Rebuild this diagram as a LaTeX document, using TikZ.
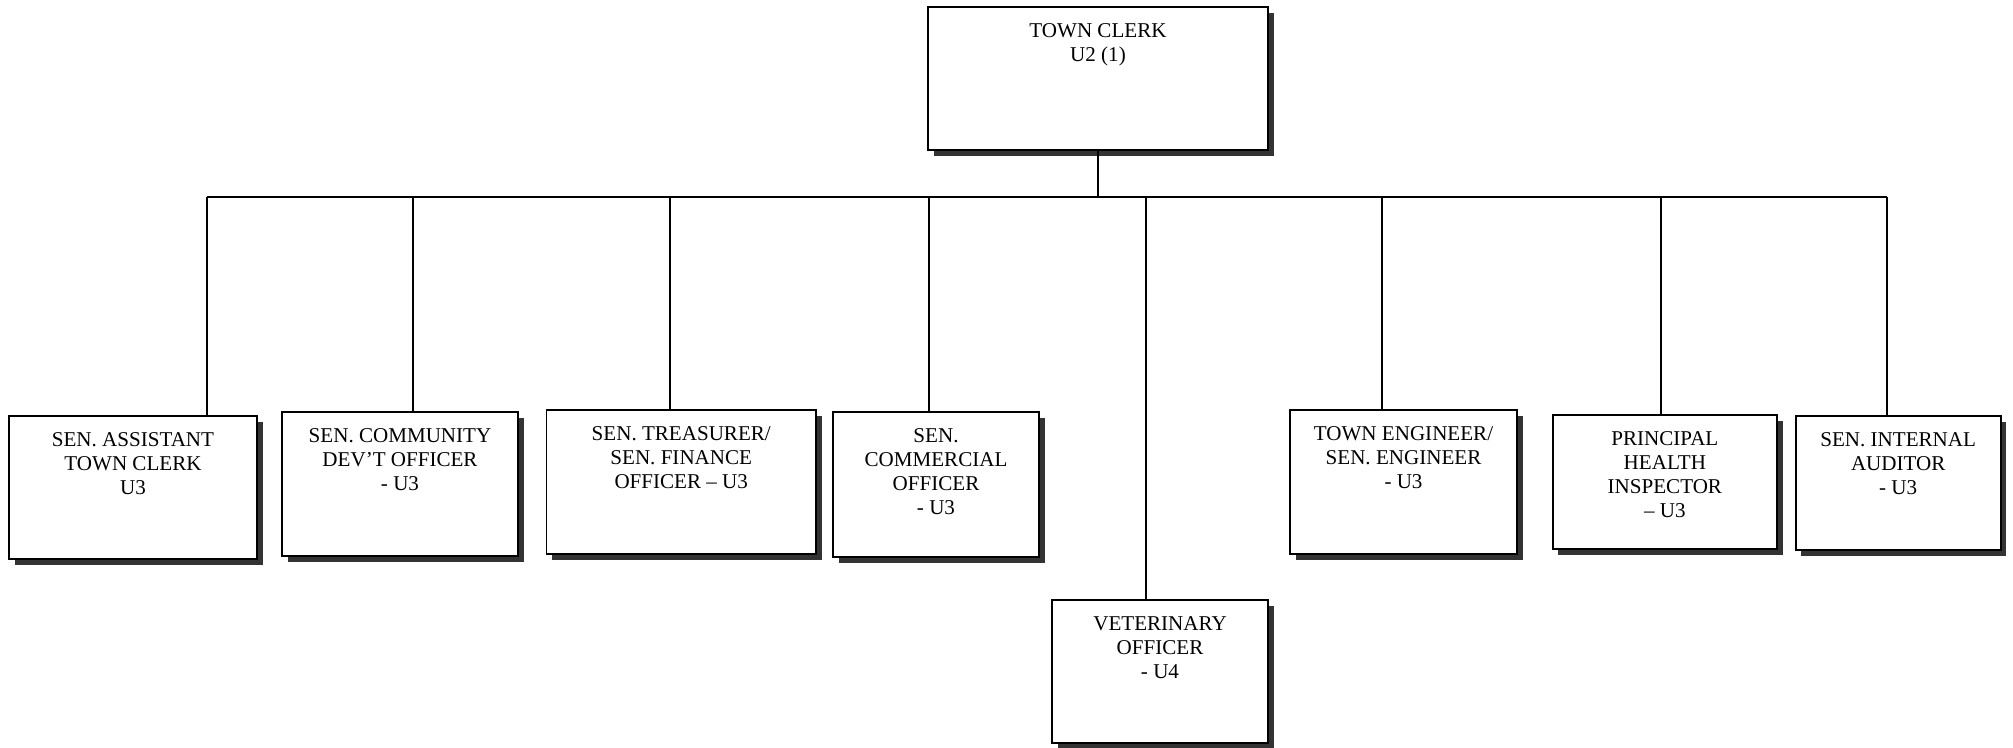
\documentclass[tikz,border=0pt]{standalone}
\usepackage{fontspec}
\setmainfont{Liberation Serif}
\usetikzlibrary{shadows}

\tikzset{
  post/.style={draw, line width=1.2pt, fill=white, inner sep=0pt,
    drop shadow={shadow xshift=4.2pt, shadow yshift=-4.2pt, fill=black!80, opacity=1}},
  posttext/.style={anchor=north, align=center, inner sep=0pt,
    font=\fontsize{15.8pt}{17.9pt}\selectfont},
  bus/.style={line width=1.2pt}
}

\begin{document}
\begin{tikzpicture}[x=0.75pt,y=0.75pt,yscale=-1,xscale=1]
\useasboundingbox (0,0) rectangle (2013,747);

%Shape: Rectangle [id:tc]
\node[post, minimum width=255pt, minimum height=107.25pt] (tc) at (1098,78.5) {};
%Shape: Rectangle [id:sat]
\node[post, minimum width=186pt, minimum height=107.25pt] (sat) at (133,487.5) {};
%Shape: Rectangle [id:scd]
\node[post, minimum width=177pt, minimum height=108pt] (scd) at (400,484) {};
%Shape: Rectangle [id:stf]
\node[post, minimum width=202.1pt, minimum height=108pt] (stf) at (681.25,482) {};
%Shape: Rectangle [id:sco]
\node[post, minimum width=154.5pt, minimum height=108.75pt] (sco) at (936,484.5) {};
%Shape: Rectangle [id:vo]
\node[post, minimum width=162pt, minimum height=107.25pt] (vo) at (1160,671.5) {};
%Shape: Rectangle [id:te]
\node[post, minimum width=170.25pt, minimum height=108pt] (te) at (1403.5,482) {};
%Shape: Rectangle [id:ph]
\node[post, minimum width=168.2pt, minimum height=100.5pt] (ph) at (1664.85,482) {};
%Shape: Rectangle [id:sia]
\node[post, minimum width=153.75pt, minimum height=100.5pt] (sia) at (1898.2,483) {};

%Straight Lines [id:bus]
\coordinate (busl) at (207,197);
\coordinate (busr) at (1887,197);
\draw[bus] (busl) -- (busr);
\draw[bus] (tc.south) -- (tc.south |- busl);

%Straight Lines [id:drops]
\coordinate (j1) at (207,197);
\coordinate (j2) at (413,197);
\coordinate (j3) at (670,197);
\coordinate (j4) at (929,197);
\coordinate (j5) at (1146,197);
\coordinate (j6) at (1382,197);
\coordinate (j7) at (1661,197);
\coordinate (j8) at (1887,197);
\draw[bus] (j1) -- (j1 |- sat.north);
\draw[bus] (j2) -- (j2 |- scd.north);
\draw[bus] (j3) -- (j3 |- stf.north);
\draw[bus] (j4) -- (j4 |- sco.north);
\draw[bus] (j5) -- (j5 |- vo.north);
\draw[bus] (j6) -- (j6 |- te.north);
\draw[bus] (j7) -- (j7 |- ph.north);
\draw[bus] (j8) -- (j8 |- sia.north);

% Text Node
\node[posttext] (tc-t) at ([yshift=12.75pt]tc.north) {TOWN CLERK\\U2 (1)};
% Text Node
\node[posttext] (sat-t) at ([yshift=12.75pt]sat.north) {SEN. ASSISTANT\\TOWN CLERK\\U3};
% Text Node
\node[posttext] (scd-t) at ([yshift=12.75pt]scd.north) {SEN. COMMUNITY\\DEV’T OFFICER\\- U3};
% Text Node
\node[posttext] (stf-t) at ([yshift=12.75pt]stf.north) {SEN. TREASURER/\\SEN. FINANCE\\OFFICER – U3};
% Text Node
\node[posttext] (sco-t) at ([yshift=12.75pt]sco.north) {SEN.\\COMMERCIAL\\OFFICER\\- U3};
% Text Node
\node[posttext] (vo-t) at ([yshift=12.75pt]vo.north) {VETERINARY\\OFFICER\\- U4};
% Text Node
\node[posttext] (te-t) at ([yshift=12.75pt]te.north) {TOWN ENGINEER/\\SEN. ENGINEER\\- U3};
% Text Node
\node[posttext] (ph-t) at ([yshift=12.75pt]ph.north) {PRINCIPAL\\HEALTH\\INSPECTOR\\– U3};
% Text Node
\node[posttext] (sia-t) at ([yshift=12.75pt]sia.north) {SEN. INTERNAL\\AUDITOR\\- U3};

\end{tikzpicture}
\end{document}
